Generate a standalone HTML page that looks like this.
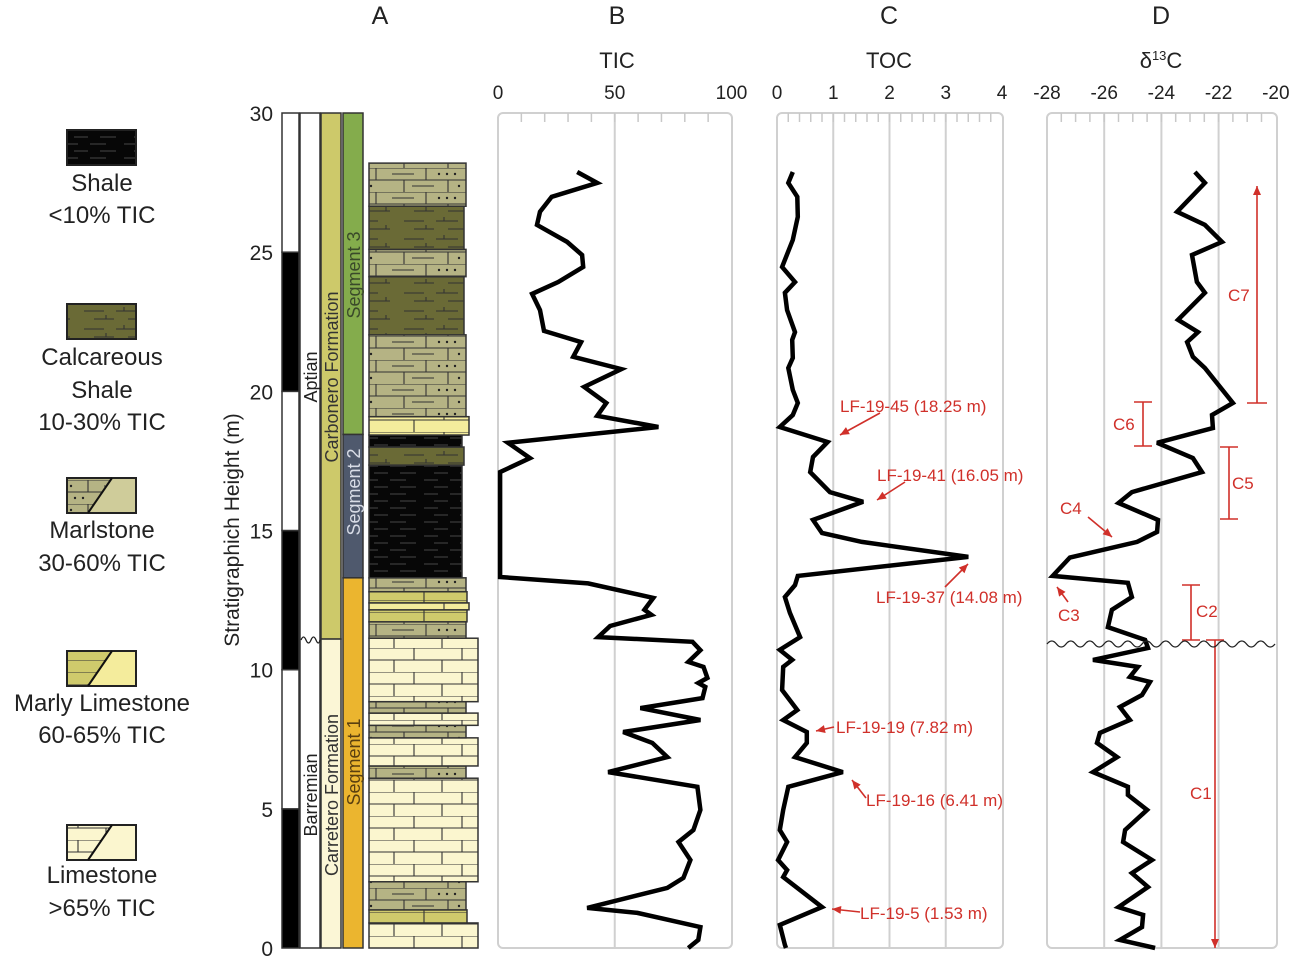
<!DOCTYPE html>
<html><head><meta charset="utf-8"><style>
html,body{margin:0;padding:0;background:#fff;}
svg{display:block;font-family:"Liberation Sans",Arial,sans-serif;}
</style></head><body>
<svg id="fig" width="1292" height="958" viewBox="0 0 1292 958" xmlns="http://www.w3.org/2000/svg">
<defs>
<pattern id="pLime" width="96" height="24" patternUnits="userSpaceOnUse">
<rect width="96" height="24" fill="#fbf6cf"/>
<path d="M0 0H96M0 12H96M30 0V12M78 0V12M10 12V24M58 12V24" stroke="#333" stroke-width="1.1" fill="none"/>
</pattern>
<pattern id="pMarl" width="96" height="24" patternUnits="userSpaceOnUse">
<rect width="96" height="24" fill="#b5b384"/>
<path d="M0 0H96M0 12H96M42 0V12M88 0V12M20 12V24M64 12V24" stroke="#333" stroke-width="1.1" fill="none"/>
<path d="M8 6H30M28 18H50" stroke="#333" stroke-width="1"/>
<circle cx="55" cy="6" r="1.2" fill="#222"/><circle cx="63" cy="6" r="1.2" fill="#222"/><circle cx="71" cy="6" r="1.2" fill="#222"/>
<circle cx="75" cy="18" r="1.2" fill="#222"/><circle cx="83" cy="18" r="1.2" fill="#222"/>
</pattern>
<pattern id="pCalc" width="80" height="18" patternUnits="userSpaceOnUse">
<rect width="80" height="18" fill="#6a6a36"/>
<path d="M4 5H24M36 5H58M14 13H34M48 13H70M44 1V5M26 9V13M66 9V13" stroke="#333" stroke-width="1.1" fill="none"/>
</pattern>
<pattern id="pShale" width="60" height="14" patternUnits="userSpaceOnUse">
<rect width="60" height="14" fill="#070707"/>
<path d="M4 4H18M30 4H46M14 11H28M40 11H56" stroke="#3a3a3a" stroke-width="1.2"/>
</pattern>
<pattern id="pMarlyLime" width="96" height="12" patternUnits="userSpaceOnUse">
<rect width="96" height="12" fill="#cfca6c"/>
<path d="M0 0H96M40 0V12" stroke="#333" stroke-width="1.1"/>
</pattern>
<pattern id="pYellowLime" width="96" height="24" patternUnits="userSpaceOnUse">
<rect width="96" height="24" fill="#f4ec9c"/>
<path d="M0 0H96M0 12H96M60 0V12M30 12V24" stroke="#333" stroke-width="1.1" fill="none"/>
</pattern>
</defs>
<g id="root"></g>
</svg>
<script>
// ---- data ----
const ticDepth = [27.88,27.49,26.99,26.45,25.98,25.37,24.9,24.47,23.93,23.5,22.92,22.17,21.77,21.24,20.8,20.16,19.58,19.12,18.72,18.15,17.6,17.1,13.33,13.1,12.58,12.15,11.97,11.57,11.17,11.0,10.7,10.28,10.1,9.7,9.52,9.38,8.98,8.62,8.19,7.76,7.37,6.86,6.32,5.79,4.96,4.24,3.81,3.16,2.52,2.16,1.44,1.26,0.75,0.29,0.0];
const ticValues = [33.9,42.5,23,18,16.7,29.6,36,36.5,25.8,14.6,18,19.7,35.6,32.2,52.8,36.9,46.4,42.5,68.7,4.3,13.7,0.9,0.9,38.6,66.5,62.7,65.7,48,42.9,83.3,86.7,81.5,88,89.7,85.8,88.8,87.6,61,86.7,53.6,66.1,72.5,47.2,85.4,86.7,83.7,77.3,82.4,79.4,72.5,38.2,59.7,86.7,85.8,81.5];
const tocDepth = [27.88,27.49,26.99,26.27,25.44,24.47,23.93,23.54,22.92,22.13,21.85,21.2,20.84,20.05,19.58,19.15,18.72,18.18,17.64,17.1,16.38,16.03,15.38,14.91,14.59,14.05,13.37,13.04,12.61,12.04,11.17,10.71,10.35,10.1,9.27,8.55,8.19,7.76,7.37,6.86,6.32,5.79,4.96,4.24,3.81,3.16,2.8,2.55,1.47,0.83,0.11,0.0];
const tocValues = [0.28,0.2,0.36,0.37,0.28,0.09,0.32,0.14,0.18,0.32,0.27,0.28,0.2,0.28,0.37,0.28,0.05,0.9,0.64,0.59,0.94,1.53,0.64,0.8,1.51,3.4,0.37,0.32,0.14,0.23,0.41,0.05,0.27,0.11,0.09,0.36,0.11,0.53,0.53,0.32,1.17,0.2,0.11,0.05,0.18,0.02,0.18,0.11,0.8,0.05,0.14,0.16];
const d13Depth = [27.88,27.49,26.45,25.98,25.37,24.9,23.93,23.54,22.57,22.13,21.77,21.24,20.84,19.58,19.15,18.68,18.15,17.6,17.1,16.38,15.99,15.38,14.95,14.59,14.03,13.37,13.12,12.61,12.15,11.53,11.07,10.78,10.35,10.1,9.74,9.56,9.09,8.66,8.19,7.73,7.37,6.86,6.32,5.79,5.5,4.96,4.24,3.81,3.16,2.69,2.19,1.47,1.19,0.75,0.29,0.0];
const d13Values = [-22.83,-22.48,-23.45,-22.48,-21.88,-22.93,-22.76,-22.48,-23.42,-22.72,-23.1,-22.9,-22.48,-21.5,-22.23,-22.2,-24.15,-22.9,-22.58,-25.03,-25.5,-24.12,-24.15,-24.85,-27.2,-27.8,-25.17,-25.03,-25.73,-25.87,-24.57,-24.47,-26.39,-24.82,-25.1,-24.4,-24.68,-25.45,-25.1,-26.15,-26.25,-25.55,-26.39,-25.17,-25.17,-24.5,-25.27,-25.34,-24.33,-25.03,-24.47,-25.5,-24.64,-24.68,-25.45,-24.22];
const depthTicks = [0,5,10,15,20,25,30];
const ticTicks = [0,50,100];
const tocTicks = [0,1,2,3,4];
const d13Ticks = [-28,-26,-24,-22,-20];
const bedBottoms = [0,0.9,1.37,2.38,6.1,6.54,7.55,8.0,8.44,8.85,11.13,11.72,12.15,12.4,12.8,13.3,17.35,18.0,18.43,19.09,22.03,24.12,25.1,26.65];
const bedTops =    [0.9,1.37,2.38,6.1,6.54,7.55,8.0,8.44,8.85,11.13,11.72,12.15,12.4,12.8,13.3,17.35,18.0,18.43,19.09,22.03,24.12,25.1,26.65,28.2];
const bedTypes = ['lime','ylime','marl','lime','marl','lime','marl','lime','marl','lime','marl','ylime','marly','ylime','marl','shale','calc','shale','marly','marl','calc','marl','calc','marl'];

// ---- scales ----
const y = d => 948 - d*27.833;
const xTIC = v => 498 + v*2.335;
const xTOC = v => 777 + v*56.25;
const xD13 = v => 1047 + (v+28)*28.6;
const NS = 'http://www.w3.org/2000/svg';
const root = document.getElementById('root');
function mk(tag, attrs, parent){const e=document.createElementNS(NS,tag);for(const k in attrs)e.setAttribute(k,attrs[k]);(parent||root).appendChild(e);return e;}
function txt(x,yy,s,size,anchor,fill,parent){const t=mk('text',{x:x,y:yy,'font-size':size,'text-anchor':anchor||'middle',fill:fill||'#222'},parent);t.textContent=s;return t;}

[['A',380],['B',617],['C',889],['D',1161]].forEach(p=>{const t=txt(p[1],24,p[0],25);

});
let t1=txt(617,68,'TIC',22);


let t2=txt(889,68,'TOC',22);


let t3=mk('text',{x:1161,y:68,'font-size':22,'text-anchor':'middle',fill:'#222'});
t3.innerHTML='δ<tspan font-size="13" dy="-8">13</tspan><tspan dy="8">C</tspan>';



function panel(name,x0,x1,ticks,scale,minorStep,minV,maxV){
  const g=mk('g',{});
  
  
  mk('rect',{x:x0,y:113,width:x1-x0,height:835,rx:5,fill:'none',stroke:'#d0d0d0','stroke-width':2},g);
  ticks.forEach(v=>{
    const xx=scale(v);
    if(v!==minV&&v!==maxV) mk('line',{x1:xx,y1:113,x2:xx,y2:948,stroke:'#d0d0d0','stroke-width':2},g);
    const l=txt(xx,99,String(v),19,'middle','#222',g);
    
    
  });
  for(let v=minV+minorStep; v<maxV-1e-9; v+=minorStep){
    const xx=scale(v);
    mk('line',{x1:xx,y1:113,x2:xx,y2:122,stroke:'#c8c8c8','stroke-width':1.5},g);
  }
  return g;
}
panel('tic',498,732,ticTicks,xTIC,10,0,100);
panel('toc',777,1003,tocTicks,xTOC,0.2,0,4);
panel('d13c',1047,1277,d13Ticks,xD13,0.5,-28,-20);

function series(name,depths,vals,scale){
  const pts=depths.map((d,i)=>scale(vals[i]).toFixed(1)+','+y(d).toFixed(1)).join(' ');
  const p=mk('polyline',{points:pts,fill:'none',stroke:'#000','stroke-width':4.5,'stroke-linejoin':'miter','stroke-miterlimit':3});
  
  
}
series('tic-curve',ticDepth,ticValues,xTIC);
series('toc-curve',tocDepth,tocValues,xTOC);
series('d13c-curve',d13Depth,d13Values,xD13);

depthTicks.forEach(d=>{const l=txt(273,y(d)+8,String(d),21,'end');

});
const yt=txt(0,0,'Stratigraphich Height (m)',21);
yt.setAttribute('transform','translate(239,530) rotate(-90)');



for(let i=0;i<6;i++){
  const r=mk('rect',{x:282,y:y((i+1)*5),width:17,height:y(i*5)-y((i+1)*5),fill:i%2===0?'#000':'#fff',stroke:'#333','stroke-width':1.5});
  
  
}
let r=mk('rect',{x:300,y:y(30),width:20,height:y(0)-y(30),fill:'#fff',stroke:'#333','stroke-width':1.5});


r=mk('rect',{x:321,y:y(30),width:20,height:y(11.1)-y(30),fill:'#cdc96a',stroke:'#333','stroke-width':1.5});


r=mk('rect',{x:321,y:y(11.1),width:20,height:y(0)-y(11.1),fill:'#fbf6d6',stroke:'#333','stroke-width':1.5});


r=mk('rect',{x:343,y:y(30),width:20,height:y(18.45)-y(30),fill:'#84ac4c',stroke:'#333','stroke-width':1.5});


r=mk('rect',{x:343,y:y(18.45),width:20,height:y(13.3)-y(18.45),fill:'#4f596d',stroke:'#333','stroke-width':1.5});


r=mk('rect',{x:343,y:y(13.3),width:20,height:y(0)-y(13.3),fill:'#ebb52f',stroke:'#333','stroke-width':1.5});


mk('path',{d:'M301 640 q2.5 -6 5 0 q2.5 6 5 0 q2.5 -6 5 0 q2.5 6 4 0',fill:'none',stroke:'#222','stroke-width':1.3});

function vtext(x,cy,s,size,fill,name){const t=txt(0,0,s,size,'middle',fill);t.setAttribute('transform','translate('+x+','+cy+') rotate(-90)');

}
vtext(317,377,'Aptian',18,'#222','aptian-label');
vtext(317,795,'Barremian',18,'#222','barremian-label');
vtext(338,377,'Carbonero Formation',18,'#333','carbonero-label');
vtext(338,795,'Carretero Formation',18,'#333','carretero-label');
vtext(360,275,'Segment 3',18,'#3a4a2a','segment-3-label');
vtext(360,492,'Segment 2',18,'#d8dce6','segment-2-label');
vtext(360,762,'Segment 1',18,'#5a4010','segment-1-label');

const fills={lime:'url(#pLime)',ylime:'url(#pMarlyLime)',marl:'url(#pMarl)',shale:'url(#pShale)',calc:'url(#pCalc)',marly:'url(#pYellowLime)'};
const widths={lime:109,ylime:98,marl:97,shale:93,calc:95,marly:100};
bedBottoms.forEach((b,i)=>{
  const tp=bedTypes[i];
  const rr=mk('rect',{x:369,y:y(bedTops[i]),width:widths[tp],height:y(b)-y(bedTops[i]),fill:fills[tp],stroke:'#333','stroke-width':1.5});
  
  
});

const legend=[['pShale',130,['Shale','<10% TIC'],[183,215]],['pCalc',304,['Calcareous','Shale','10-30% TIC'],[357,390,422]],['pMarl',478,['Marlstone','30-60% TIC'],[530,563]],['pMarlyLime',651,['Marly Limestone','60-65% TIC'],[703,735]],['pLime',825,['Limestone','>65% TIC'],[875,908]]];
legend.forEach(L=>{
  const g=mk('g',{});
  
  
  mk('rect',{x:67,y:L[1],width:69,height:35,fill:'url(#'+L[0]+')',stroke:'#222','stroke-width':2},g);
  if(L[0]==='pMarl'||L[0]==='pMarlyLime'||L[0]==='pLime'){
    mk('path',{d:'M88 '+(L[1]+35)+' L112 '+L[1]+' L136 '+L[1]+' L136 '+(L[1]+35)+' Z',fill:L[0]==='pMarl'?'#cfcc9a':(L[0]==='pMarlyLime'?'#f4ec9c':'#fbf6cf'),stroke:'none'},g);
    mk('rect',{x:67,y:L[1],width:69,height:35,fill:'none',stroke:'#222','stroke-width':2},g);
    mk('line',{x1:88,y1:L[1]+35,x2:112,y2:L[1],stroke:'#111','stroke-width':2},g);
  }
  L[2].forEach((s,i)=>txt(102,L[3][i]+8,s,24,'middle','#222',g));
});

const red='#d0302a';
function arrow(x1,y1,x2,y2,name){
  const g=mk('g',{});
  
  
  mk('line',{x1:x1,y1:y1,x2:x2,y2:y2,stroke:red,'stroke-width':1.6},g);
  const a=Math.atan2(y2-y1,x2-x1),L=9,W=4;
  const bx=x2-L*Math.cos(a),by=y2-L*Math.sin(a);
  mk('polygon',{points:x2+','+y2+' '+(bx+W*Math.sin(a))+','+(by-W*Math.cos(a))+' '+(bx-W*Math.sin(a))+','+(by+W*Math.cos(a)),fill:red},g);
}
function rl(x,yy,s,name){const t=txt(x,yy,s,17,'start',red);

}
rl(840,412,'LF-19-45 (18.25 m)','label-lf-19-45'); arrow(880,413,840,435,'arrow-lf-19-45');
rl(877,481,'LF-19-41 (16.05 m)','label-lf-19-41'); arrow(905,482,877,500,'arrow-lf-19-41');
rl(876,603,'LF-19-37 (14.08 m)','label-lf-19-37'); arrow(945,587,968,564,'arrow-lf-19-37');
rl(836,733,'LF-19-19 (7.82 m)','label-lf-19-19'); arrow(834,727,816,731,'arrow-lf-19-19');
rl(866,806,'LF-19-16 (6.41 m)','label-lf-19-16'); arrow(866,798,852,780,'arrow-lf-19-16');
rl(860,919,'LF-19-5 (1.53 m)','label-lf-19-5'); arrow(860,912,832,909,'arrow-lf-19-5');

function bar(x,y1,y2,name){const g=mk('g',{});


mk('path',{d:'M'+x+' '+y1+'V'+y2+'M'+(x-9)+' '+y1+'H'+(x+9)+'M'+(x-9)+' '+y2+'H'+(x+9),stroke:red,'stroke-width':1.6,fill:'none'},g);}
arrow(1257,403,1257,186,'c7-arrow'); mk('path',{d:'M1247 403H1267',stroke:red,'stroke-width':1.6});
rl(1228,301,'C7','c7-label');
bar(1143,402,446,'c6-bar'); rl(1113,430,'C6','c6-label');
bar(1229,447,519,'c5-bar'); rl(1232,489,'C5','c5-label');
rl(1060,514,'C4','c4-label'); arrow(1088,517,1112,537,'c4-arrow');
rl(1058,621,'C3','c3-label'); arrow(1068,602,1057,587,'c3-arrow');
bar(1191,585,640,'c2-bar'); rl(1196,617,'C2','c2-label');
arrow(1215,640,1215,948,'c1-arrow'); mk('path',{d:'M1206 640H1224',stroke:red,'stroke-width':1.6});
rl(1190,799,'C1','c1-label');
let d='M1047 644';
for(let x=1047;x<1260;x+=19){d+=' q4.75 -6 9.5 0 q4.75 6 9.5 0';}
const w=mk('path',{d:d,fill:'none',stroke:'#222','stroke-width':1.3});


</script>
</body></html>
